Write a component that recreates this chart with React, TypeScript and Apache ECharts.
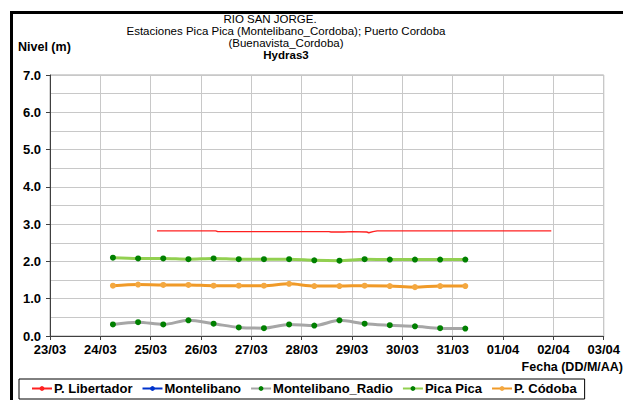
import React, { useEffect, useRef } from "react";
import * as echarts from "echarts";

// ---- data ----
const YEAR = 2011;
const sampleTimes = [
  "24/03 06:00", "24/03 18:00", "25/03 06:00", "25/03 18:00", "26/03 06:00",
  "26/03 18:00", "27/03 06:00", "27/03 18:00", "28/03 06:00", "28/03 18:00",
  "29/03 06:00", "29/03 18:00", "30/03 06:00", "30/03 18:00", "31/03 06:00",
];
const picaPica = [2.10, 2.08, 2.08, 2.06, 2.08, 2.06, 2.06, 2.06, 2.03, 2.02, 2.06, 2.05, 2.05, 2.05, 2.05];
const pCordoba = [1.35, 1.38, 1.37, 1.37, 1.35, 1.35, 1.35, 1.40, 1.34, 1.34, 1.35, 1.34, 1.31, 1.34, 1.34];
const montelibanoRadio = [0.31, 0.37, 0.31, 0.42, 0.33, 0.23, 0.21, 0.31, 0.28, 0.42, 0.33, 0.29, 0.26, 0.21, 0.20];

const libertadorTimes = [
  "25/03 03:00", "26/03 07:00", "26/03 08:00", "28/03 13:00", "28/03 14:00", "28/03 20:00",
  "29/03 00:00", "29/03 07:00", "29/03 08:00", "29/03 10:00", "29/03 12:00", "01/04 23:00",
];
const libertador = [2.82, 2.82, 2.80, 2.80, 2.79, 2.79, 2.80, 2.79, 2.77, 2.80, 2.82, 2.82];
const montelibanoTimes: string[] = [];
const montelibano: number[] = [];

const axisStart = "23/03 00:00";
const axisEnd = "03/04 00:00";
const yTicks = [0, 7, 1];

const titleLines = [
  "RIO SAN JORGE.\u00a0\u00a0\u00a0\u00a0\u00a0\u00a0\u00a0\u00a0\u00a0\u00a0",
  "Estaciones Pica Pica (Montelibano_Cordoba); Puerto Cordoba",
  "(Buenavista_Cordoba)",
];
const subTitle = "Hydras3";
const yName = "Nivel (m)";
const xName = "Fecha (DD/M/AA)";
const seriesNames = ["P. Libertador", "Montelibano", "Montelibano_Radio", "Pica Pica", "P. Códoba"];

function parse(s: string): number {
  const [d, t] = s.split(" ");
  const [dd, mm] = d.split("/").map(Number);
  const [hh, mi] = t.split(":").map(Number);
  return Date.UTC(YEAR, mm - 1, dd, hh, mi);
}
function pairs(times: string[], vals: number[]) {
  return times.map((t, i) => [parse(t), vals[i]]);
}
const pad = (n: number) => (n < 10 ? "0" + n : "" + n);

const FONT = "Liberation Sans, Arial, sans-serif";
const GRID = "#c8c8c8";
const AXIS = "#404040";

export default function App() {
  const ref = useRef<HTMLDivElement>(null);
  useEffect(() => {
    if (!ref.current) return;
    const chart = echarts.init(ref.current, undefined, { renderer: "svg" });
    const DAY = 86400000;
    chart.setOption({
      animation: false,
      backgroundColor: "#fff",
      textStyle: { fontFamily: FONT },
      grid: {
        left: 50, top: 75, right: 19, bottom: 64,
        show: true, borderColor: "#a8a8a8", borderWidth: 1,
      },
      xAxis: {
        type: "value",
        min: parse(axisStart),
        max: parse(axisEnd),
        interval: DAY,
        axisLine: { show: true, onZero: false, lineStyle: { color: AXIS } },
        axisTick: { show: true, length: 4, lineStyle: { color: AXIS } },
        axisLabel: {
          color: "#000", fontWeight: "bold", fontSize: 13, fontFamily: FONT, margin: 7,
          formatter: (v: number) => {
            const d = new Date(v);
            return pad(d.getUTCDate()) + "/" + pad(d.getUTCMonth() + 1);
          },
        },
        splitLine: { show: true, lineStyle: { color: GRID } },
      },
      yAxis: {
        type: "value",
        min: yTicks[0], max: yTicks[1], interval: yTicks[2],
        axisLine: { show: true, lineStyle: { color: AXIS } },
        axisTick: { show: true, length: 4, lineStyle: { color: AXIS } },
        axisLabel: {
          color: "#000", fontWeight: "bold", fontSize: 13, fontFamily: FONT, margin: 9,
          formatter: (v: number) => v.toFixed(1),
        },
        splitLine: { show: true, lineStyle: { color: GRID } },
        minorTick: { show: false, splitNumber: 2 },
        minorSplitLine: { show: true, lineStyle: { color: GRID } },
      },
      legend: {
        left: 19, top: 379,
        padding: [3, 8, 4, 12],
        borderColor: "#000", borderWidth: 1,
        itemWidth: 20, itemHeight: 6, itemGap: 9,
        textStyle: { color: "#000", fontWeight: "bold", fontSize: 13, fontFamily: FONT, padding: [0, 0, 0, -3] },
        data: seriesNames,
      },
      series: [
        {
          name: seriesNames[0], type: "line", symbol: "none",
          data: pairs(libertadorTimes, libertador),
          lineStyle: { color: "#ff2020", width: 1.4 }, itemStyle: { color: "#ff2020" },
        },
        {
          name: seriesNames[1], type: "line", symbol: "none",
          data: pairs(montelibanoTimes, montelibano),
          lineStyle: { color: "#0033cc", width: 2.5 }, itemStyle: { color: "#0033cc" },
        },
        {
          name: seriesNames[2], type: "line", symbol: "circle", symbolSize: 6, smooth: 0.3,
          data: pairs(sampleTimes, montelibanoRadio),
          lineStyle: { color: "#a6a6a6", width: 3 }, itemStyle: { color: "#008000" },
        },
        {
          name: seriesNames[3], type: "line", symbol: "circle", symbolSize: 6, smooth: 0.3,
          data: pairs(sampleTimes, picaPica),
          lineStyle: { color: "#92d050", width: 3 }, itemStyle: { color: "#008000" },
        },
        {
          name: seriesNames[4], type: "line", symbol: "circle", symbolSize: 6, smooth: 0.3,
          data: pairs(sampleTimes, pCordoba),
          lineStyle: { color: "#f09a28", width: 3 }, itemStyle: { color: "#f4a840" },
        },
      ],
      graphic: [
        { type: "rect", left: 10, top: 11, shape: { width: 3, height: 389 }, style: { fill: "#000" } },
        { type: "rect", left: 10, top: 11, shape: { width: 613, height: 3 }, style: { fill: "#000" } },
        {
          type: "text", x: 286, y: 13,
          style: {
            text:
              `{n|${titleLines[0]}}\n{n|${titleLines[1]}}\n{n|${titleLines[2]}}\n{b|${subTitle}}`,
            fill: "#000",
            align: "center",
            verticalAlign: "top",
            rich: {
              n: { fontSize: 11.5, fontFamily: FONT, lineHeight: 12, fill: "#000" },
              b: { fontSize: 11.5, fontFamily: FONT, fontWeight: "bold", lineHeight: 12, fill: "#000" },
            },
          },
        },
        {
          type: "text", x: 18, y: 47,
          style: { text: yName, fill: "#000", font: `bold 12.5px ${FONT}`, textAlign: "left", textVerticalAlign: "middle" },
        },
        {
          type: "text", x: 623, y: 367,
          style: { text: xName, fill: "#000", font: `bold 12.5px ${FONT}`, textAlign: "right", textVerticalAlign: "middle" },
        },
      ],
    });
    return () => chart.dispose();
  }, []);
  return <div ref={ref} style={{ position: "fixed", left: 0, top: 0, width: 623, height: 400 }} />;
}
